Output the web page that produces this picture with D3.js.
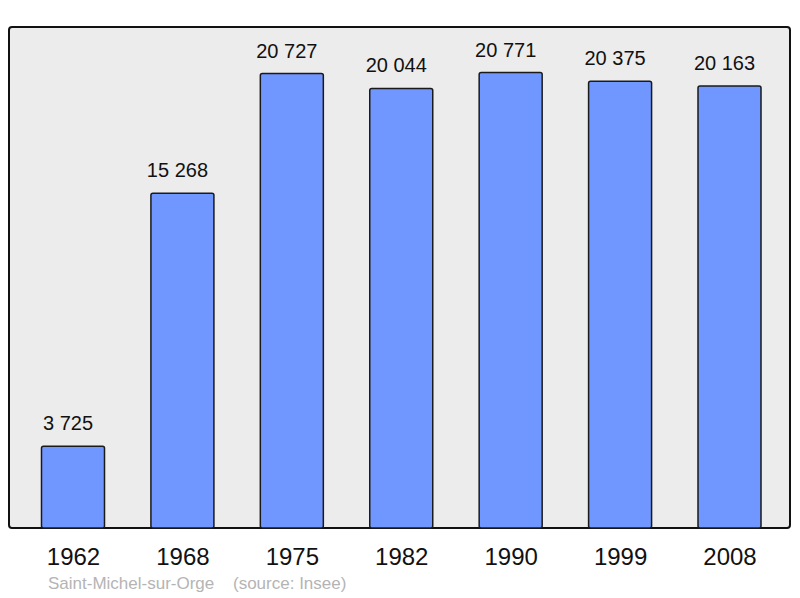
<!DOCTYPE html>
<html>
<head>
<meta charset="utf-8">
<script src="https://cdn.jsdelivr.net/npm/d3@7"></script>
<style>
  body { margin: 0; background: #fff; }
  text { font-family: "Liberation Sans", Arial, sans-serif; }
</style>
</head>
<body>
<div id="chart"></div>
<script>
// population data
const years = ["1962", "1968", "1975", "1982", "1990", "1999", "2008"];
const population = [3725, 15268, 20727, 20044, 20771, 20375, 20163];
const townName = "Saint-Michel-sur-Orge";
const sourceText = "(source: Insee)";

const width = 800, height = 598;
const panel = {left: 9, top: 27, right: 790, bottom: 528};

const svg = d3.select("#chart")
  .append("svg")
  .attr("width", width)
  .attr("height", height);

// background panel
svg.append("rect")
  .attr("x", panel.left)
  .attr("y", panel.top)
  .attr("width", panel.right - panel.left)
  .attr("height", panel.bottom - panel.top)
  .attr("rx", 3)
  .attr("fill", "#ececec")
  .attr("stroke", "#111")
  .attr("stroke-width", 2);

var x = d3.scalePoint()
  .domain(years)
  .range([73, 729.5]);
const barW = 63;

var y = d3.scaleLinear()
  .domain([0, d3.max(population) * 1.1])
  .range([panel.bottom, panel.top]);

const data = years.map((yr, i) => ({year: yr, value: population[i]}));

svg.selectAll(".bar")
  .data(data)
  .enter().append("rect")
  .attr("class", "bar")
  .attr("x", d => x(d.year) - barW / 2)
  .attr("y", d => y(d.value))
  .attr("width", barW)
  .attr("height", d => y(0) - y(d.value))
  .attr("rx", 2)
  .attr("fill", "#7096ff")
  .attr("stroke", "#1a1a1a")
  .attr("stroke-width", 1.5);

// value labels with space as thousands separator
const fmt = v => d3.format(",")(v).replace(/,/g, " ");
svg.selectAll(".val")
  .data(data)
  .enter().append("text")
  .attr("class", "val")
  .attr("x", d => x(d.year) - 5)
  .attr("y", d => y(d.value) - 16)
  .attr("text-anchor", "middle")
  .attr("font-size", 20)
  .attr("fill", "#111")
  .text(d => fmt(d.value));

// x axis labels
svg.append("g")
  .attr("transform", `translate(0,${panel.bottom})`)
  .call(d3.axisBottom(x).tickSize(0).tickPadding(20))
  .call(g => g.select(".domain").remove())
  .selectAll("text")
  .attr("font-size", 24)
  .attr("fill", "#111")
  .style("font-family", "'Liberation Sans', Arial, sans-serif");

// footer
svg.append("text")
  .attr("x", 48)
  .attr("y", 589)
  .attr("font-size", 17)
  .attr("fill", "#b4b4b4")
  .text(townName);
svg.append("text")
  .attr("x", 233)
  .attr("y", 589)
  .attr("font-size", 17)
  .attr("fill", "#b4b4b4")
  .text(sourceText);
</script>
</body>
</html>
